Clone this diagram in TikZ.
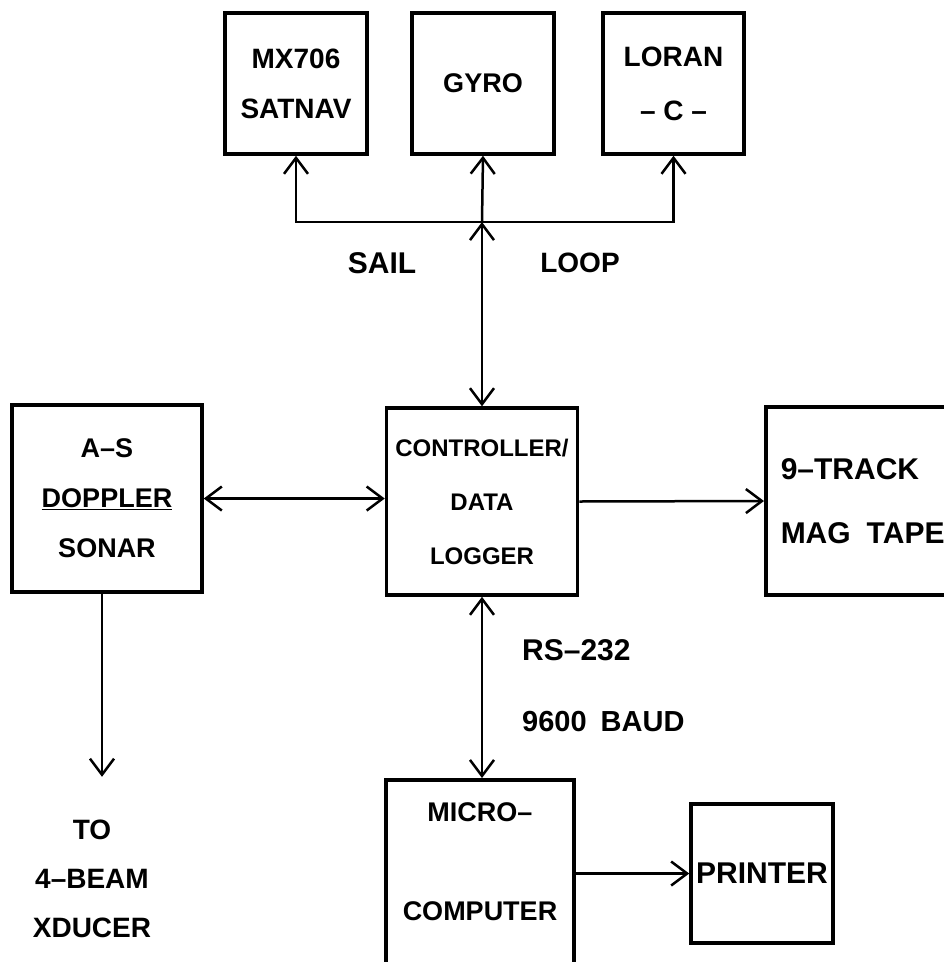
\documentclass[tikz,border=0pt]{standalone}
\usepackage{fontspec}
\setmainfont{Liberation Sans}
\usetikzlibrary{arrows.meta, positioning}

\begin{document}
\begin{tikzpicture}[
  x=1pt, y=-1pt,
  font=\fontsize{28}{50}\selectfont\bfseries,
  box/.style={draw, line width=3.5pt, align=center, inner sep=0pt},
  conn/.style={line width=2.5pt, >={Straight Barb[length=16pt, width=24pt]}},
  lbl/.style={inner sep=0pt, align=center}
]
\clip (0,0) rectangle (944,962);

% navigation sensors on the sail loop
\node[box, minimum width=142pt, minimum height=141pt] (sat) at (296,83.5) {MX706\\SATNAV};
\node[box, minimum width=142pt, minimum height=141pt, font=\fontsize{27}{50}\selectfont\bfseries] (gyro) at (483,83.5) {GYRO};
\node[box, minimum width=141pt, minimum height=141pt, font=\fontsize{28}{54}\selectfont\bfseries] (loran) at (673.5,83.5) {LORAN\\-- C --};
\coordinate (hub) at (482,222);
\node[lbl, font=\fontsize{30}{36}\selectfont\bfseries] (sail) at (382,263) {SAIL};
\node[lbl] (loop) at (580,263) {LOOP};

% middle row
\node[box, minimum width=190pt, minimum height=187pt, font=\fontsize{27}{50}\selectfont\bfseries] (sonar) at (107,498.5) {A--S\\\underline{DOPPLER}\\SONAR};
\node[box, minimum width=191pt, minimum height=187pt, font=\fontsize{24}{54}\selectfont\bfseries] (ctrl) at (482,501.5) {CONTROLLER/\\DATA\\LOGGER};
\node[box, anchor=west, align=left, text width=170pt, inner xsep=15pt, minimum height=188pt, font=\fontsize{30}{64}\selectfont\bfseries] (tape) at (764,501) {9--TRACK\\MAG\hspace{6pt} TAPE};

% bottom row
\node[lbl, font=\fontsize{28}{49}\selectfont\bfseries] (xducer) at (92,879) {TO\\4--BEAM\\XDUCER};
\node[lbl, anchor=west, font=\fontsize{30}{36}\selectfont\bfseries] (rs) at (522,650) {RS--232};
\node[lbl, anchor=west, font=\fontsize{29}{36}\selectfont\bfseries] (baud) at (522,722) {9600\hspace{6pt} BAUD};
\node[box, minimum width=188pt, text height=141pt, text depth=99pt, inner ysep=0pt, anchor=north, font=\fontsize{27}{99}\selectfont\bfseries] (micro) at (480,778) {MICRO--\\COMPUTER};
\node[box, minimum width=142pt, minimum height=139pt, font=\fontsize{30}{36}\selectfont\bfseries] (printer) at (762,873.5) {PRINTER};

% connectors
\draw[conn, <->] (sat.south) |- (hub) -| (loran.south);
\draw[conn, ->] (hub) -- (gyro.south);
\draw[conn, <->] (hub) -- (hub |- ctrl.north);
\draw[conn, <->] (sonar.east) -- (sonar.east -| ctrl.west);
\draw[conn, ->] (ctrl.east) -- (tape.west);
\draw[conn, ->] ([xshift=-5pt]sonar.south) -- ++(0,183);
\draw[conn, <->] (ctrl.south) -- (ctrl.south |- micro.north);
\draw[conn, ->] (micro.east |- printer.west) -- (printer.west);
\end{tikzpicture}
\end{document}
